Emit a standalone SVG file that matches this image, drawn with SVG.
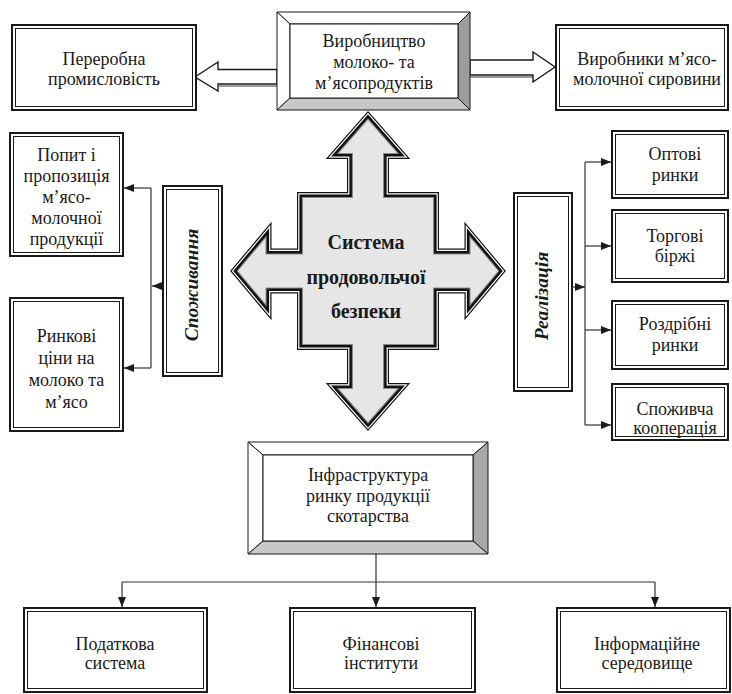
<svg xmlns="http://www.w3.org/2000/svg" xmlns:xlink="http://www.w3.org/1999/xlink" width="732" height="694" viewBox="0 0 732 694">
<style>
text{font-family:"Liberation Serif","Times New Roman",serif;font-size:18px;fill:#1a1a1a;text-anchor:middle}
.bold{font-weight:bold;font-size:20px}
.vi{font-weight:bold;font-style:italic;font-size:19.5px}
.bo{fill:#fff;stroke:#1a1a1a;stroke-width:2}
.bi{fill:none;stroke:#1a1a1a;stroke-width:1}
.bv{stroke:#1a1a1a;stroke-width:1;stroke-linejoin:miter}
.ln{fill:none;stroke:#333;stroke-width:1.2}
.ha{fill:#fff;stroke:#1a1a1a;stroke-width:1.4;stroke-linejoin:miter}
.sh{fill:none;stroke:#9a9a9a;stroke-width:2}
.c1{fill:none;stroke:#111;stroke-width:12;stroke-linejoin:miter}
.c2{fill:none;stroke:#fff;stroke-width:9.6;stroke-linejoin:miter}
.c3{fill:none;stroke:#111;stroke-width:7.2;stroke-linejoin:miter}
.c4{fill:none;stroke:#8a8a8a;stroke-width:2.2;stroke-linejoin:miter}
.c5{fill:#e6e6e6;stroke:none}
</style>
<defs>
<marker id="ah" markerWidth="10" markerHeight="8" refX="10" refY="4" orient="auto" markerUnits="userSpaceOnUse"><path d="M0,0 L10,4 L0,8 z" fill="#1a1a1a"/></marker>
<path id="cross" d="M368,120 L397,153 L383,153 L383,198 L433,198 L433,254.5 L470.5,254.5 L470.5,238.2 L498,271 L470.5,303.8 L470.5,287.5 L433,287.5 L433,344 L383,344 L383,389 L397,389 L368,422 L339,389 L353,389 L353,344 L303,344 L303,287.5 L265.5,287.5 L265.5,303.8 L238,271 L265.5,238.2 L265.5,254.5 L303,254.5 L303,198 L353,198 L353,153 L339,153 Z"/>
</defs>
<rect width="732" height="694" fill="#fff"/>

<g id="connectors">
<line class="sh" x1="219" y1="86" x2="277" y2="86"/>
<polygon class="ha" points="195,77 218,62 218,69.5 277,69.5 277,84 218,84 218,91"/>
<line class="sh" x1="470" y1="77" x2="533" y2="77"/>
<polygon class="ha" points="470,60 533,60 533,52 555,67 533,82 533,75 470,75"/>
<path class="ln" d="M151,188 V368"/>
<path class="ln" d="M151,188 H124" marker-end="url(#ah)"/>
<path class="ln" d="M151,368 H124" marker-end="url(#ah)"/>
<path class="ln" d="M162,286 H152" marker-end="url(#ah)"/>
<path class="ln" d="M585,162 V425"/>
<path class="ln" d="M585,162 H611" marker-end="url(#ah)"/>
<path class="ln" d="M585,246 H611" marker-end="url(#ah)"/>
<path class="ln" d="M585,330 H611" marker-end="url(#ah)"/>
<path class="ln" d="M585,425 H611" marker-end="url(#ah)"/>
<path class="ln" d="M573,287 H585" marker-end="url(#ah)"/>
<path class="ln" d="M376,554 V607" marker-end="url(#ah)"/>
<path class="ln" d="M122,582 H655"/>
<path class="ln" d="M122,582 V607" marker-end="url(#ah)"/>
<path class="ln" d="M655,582 V607" marker-end="url(#ah)"/>
</g>

<g id="n_production">
<polygon class="bv" fill="#fff" points="277,12 470,12 458,24 290,24"/>
<polygon class="bv" fill="#fff" points="277,12 290,24 290,98 277,110"/>
<polygon class="bv" fill="#9c9c9c" points="470,12 470,110 458,98 458,24"/>
<polygon class="bv" fill="#c8c8c8" points="277,110 470,110 458,98 290,98"/>
<rect class="bv" fill="#fff" x="290" y="24" width="168" height="74"/>
<text x="374" y="47">Виробництво</text>
<text x="374" y="68">молоко- та</text>
<text x="374" y="89">м’ясопродуктів</text>
</g>

<g id="n_pererobna">
<rect class="bo" x="12" y="25" width="184" height="85"/>
<rect class="bi" x="15.5" y="28.5" width="177" height="78"/>
<text x="104" y="65">Переробна</text>
<text x="104" y="85">промисловість</text>
</g>

<g id="n_vyrobnyky">
<rect class="bo" x="556" y="25" width="172" height="85"/>
<rect class="bi" x="559.5" y="28.5" width="165" height="78"/>
<text x="647" y="65">Виробники м’ясо-</text>
<text x="647" y="85">молочної сировини</text>
</g>

<g id="n_system">
<use xlink:href="#cross" class="c1"/>
<use xlink:href="#cross" class="c2"/>
<use xlink:href="#cross" class="c3"/>
<use xlink:href="#cross" class="c4"/>
<use xlink:href="#cross" class="c5"/>
<text class="bold" x="366" y="249">Система</text>
<text class="bold" x="366" y="284">продовольчої</text>
<text class="bold" x="366" y="318">безпеки</text>
</g>

<g id="n_popyt">
<rect class="bo" x="10" y="133" width="113" height="123"/>
<rect class="bi" x="13.5" y="136.5" width="106" height="116"/>
<text x="66.5" y="161">Попит і</text>
<text x="66.5" y="182">пропозиція</text>
<text x="66.5" y="203">м’ясо-</text>
<text x="66.5" y="224">молочної</text>
<text x="66.5" y="245">продукції</text>
</g>

<g id="n_tsiny">
<rect class="bo" x="10" y="298" width="113" height="133"/>
<rect class="bi" x="13.5" y="301.5" width="106" height="126"/>
<text x="66.5" y="342">Ринкові</text>
<text x="66.5" y="364">ціни на</text>
<text x="66.5" y="386">молоко та</text>
<text x="66.5" y="408">м’ясо</text>
</g>

<g id="n_spozhyvannia">
<rect class="bo" x="163" y="186" width="59" height="190"/>
<rect class="bi" x="166.5" y="189.5" width="52" height="183"/>
<text class="vi" transform="translate(198,285) rotate(-90)">Споживання</text>
</g>

<g id="n_realizatsiia">
<rect class="bo" x="514" y="193" width="58" height="198"/>
<rect class="bi" x="517.5" y="196.5" width="51" height="191"/>
<text class="vi" transform="translate(548,296) rotate(-90)">Реалізація</text>
</g>

<g id="n_optovi">
<rect class="bo" x="612" y="131" width="116" height="67"/>
<rect class="bi" x="615.5" y="134.5" width="109" height="60"/>
<text x="675" y="160">Оптові</text>
<text x="675" y="181">ринки</text>
</g>

<g id="n_birzhi">
<rect class="bo" x="612" y="210" width="116" height="72"/>
<rect class="bi" x="615.5" y="213.5" width="109" height="65"/>
<text x="675" y="242">Торгові</text>
<text x="675" y="262">біржі</text>
</g>

<g id="n_rozdribni">
<rect class="bo" x="612" y="301" width="116" height="68"/>
<rect class="bi" x="615.5" y="304.5" width="109" height="61"/>
<text x="675" y="330">Роздрібні</text>
<text x="675" y="351">ринки</text>
</g>

<g id="n_kooperatsiia">
<rect class="bo" x="612" y="384" width="116" height="56"/>
<rect class="bi" x="615.5" y="387.5" width="109" height="49"/>
<text x="675" y="415">Споживча</text>
<text x="675" y="434">кооперація</text>
</g>

<g id="n_infrastruktura">
<polygon class="bv" fill="#fff" points="248,442 488,442 473,455 263,455"/>
<polygon class="bv" fill="#fff" points="248,442 263,455 263,541 248,554"/>
<polygon class="bv" fill="#a8a8a8" points="488,442 488,554 473,541 473,455"/>
<polygon class="bv" fill="#c8c8c8" points="248,554 488,554 473,541 263,541"/>
<rect class="bv" fill="#fff" x="263" y="455" width="210" height="86"/>
<text x="368" y="481">Інфраструктура</text>
<text x="368" y="502">ринку продукції</text>
<text x="368" y="522">скотарства</text>
</g>

<g id="n_podatkova">
<rect class="bo" x="24" y="608" width="183" height="84"/>
<rect class="bi" x="27.5" y="611.5" width="176" height="77"/>
<text x="115" y="650">Податкова</text>
<text x="115" y="669">система</text>
</g>

<g id="n_finansovi">
<rect class="bo" x="290" y="608" width="185" height="84"/>
<rect class="bi" x="293.5" y="611.5" width="178" height="77"/>
<text x="381" y="650">Фінансові</text>
<text x="381" y="669">інститути</text>
</g>

<g id="n_informatsiine">
<rect class="bo" x="557" y="608" width="173" height="84"/>
<rect class="bi" x="560.5" y="611.5" width="166" height="77"/>
<text x="647" y="650">Інформаційне</text>
<text x="647" y="669">середовище</text>
</g>
</svg>
